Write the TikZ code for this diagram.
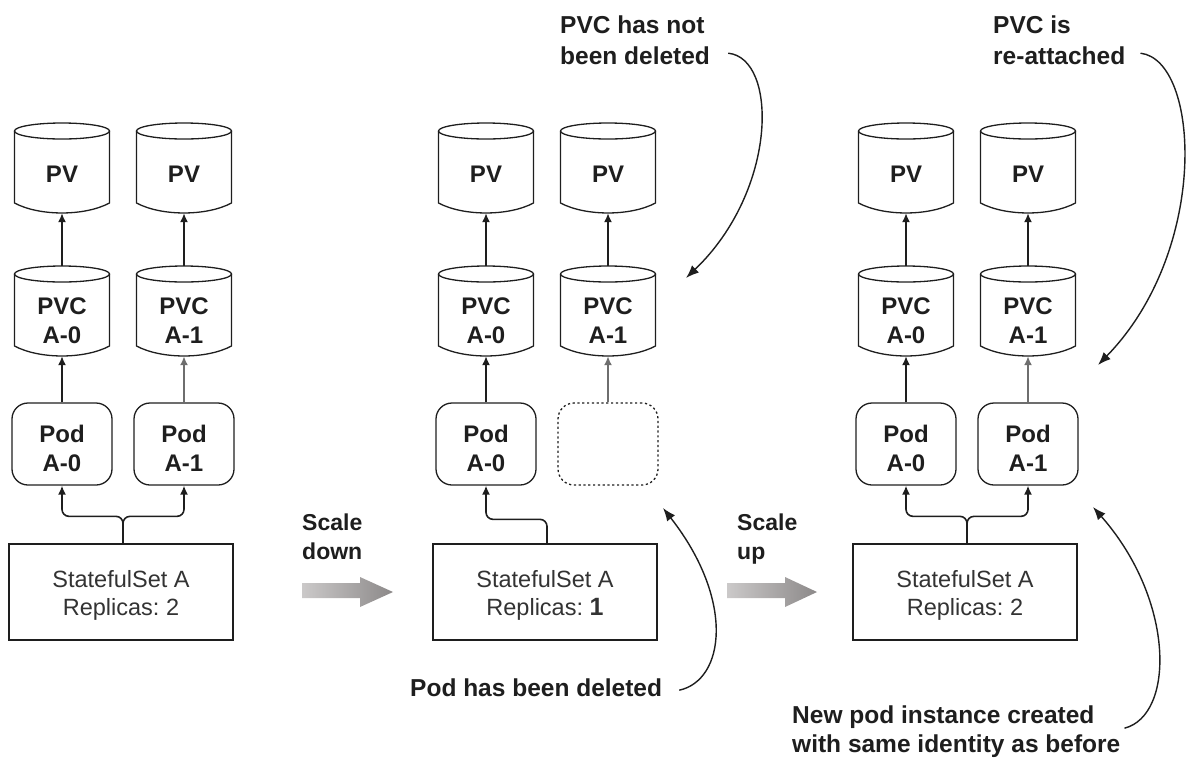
\documentclass[tikz,border=0pt]{standalone}
\usepackage{fontspec}
\setmainfont{Liberation Sans}
\usetikzlibrary{arrows.meta,calc}
\frenchspacing
\definecolor{ink}{HTML}{1E1E1E}
\definecolor{soft}{HTML}{333333}
\definecolor{grayarr}{HTML}{6E6E6E}
\definecolor{arrL}{HTML}{CBC9C9}
\definecolor{arrR}{HTML}{8C8989}
\newcommand\lbl[2]{\raisebox{-#1pt}[\height][\depth]{\begin{tabular}{@{}c@{}}#2\end{tabular}}}
\newcommand\cylshape[3]{%
  \draw[shapeline] (#1,#2+8) ellipse [x radius=47.5, y radius=8];
  \draw[shapeline] (#1-47.5,#2+8) -- (#1-47.5,#3-10) .. controls (#1-22.5,#3+3.3) and (#1+22.5,#3+3.3) .. (#1+47.5,#3-10) -- (#1+47.5,#2+8);
}
\begin{document}
\begin{tikzpicture}[x=1pt,y=-1pt,
  shapeline/.style={draw=ink, line width=1.3pt},
  cyl/.style={minimum width=95, inner sep=0pt, font=\fontsize{24}{29}\selectfont\bfseries, text=ink},
  podbox/.style={draw=ink, line width=1.3pt, rounded corners=16, minimum width=100, minimum height=82, inner sep=0pt, font=\fontsize{24}{29}\selectfont\bfseries, text=ink},
  ssbox/.style={draw=ink, line width=1.3pt, minimum width=224, minimum height=96, inner sep=0pt, font=\fontsize{23.5}{28}\selectfont, text=soft},
  arr/.style={draw=ink, line width=1.6pt, -{Latex[length=9pt,width=8pt]}},
  grayline/.style={draw=grayarr, line width=1.9pt},
  note/.style={anchor=north west, inner sep=0pt, font=\fontsize{24.5}{30}\selectfont\bfseries, text=ink},
  notearr/.style={draw=ink, line width=1.4pt, -{Latex[length=13pt,width=10pt]}},
  scaletxt/.style={anchor=north west, inner sep=0pt, font=\fontsize{23}{29}\selectfont\bfseries, text=ink}
]
\useasboundingbox (0,0) rectangle (1190,761);

% ---------- three panels ----------
\foreach \off/\p in {0/1,424/2,844/3}{
  \cylshape{62+\off}{123}{213}
  \cylshape{184+\off}{123}{213}
  \cylshape{62+\off}{266}{356}
  \cylshape{184+\off}{266}{356}
  \node[cyl, minimum height=90] (pv\p a) at (62+\off,168) {\lbl{8.2}{PV}};
  \node[cyl, minimum height=90] (pv\p b) at (184+\off,168) {\lbl{8.2}{PV}};
  \node[cyl, minimum height=90] (pvc\p a) at (62+\off,311) {\lbl{11.7}{PVC\\A-0}};
  \node[cyl, minimum height=90] (pvc\p b) at (184+\off,311) {\lbl{11.7}{PVC\\A-1}};
  \node[podbox] (pod\p a) at (62+\off,444) {\lbl{6.7}{Pod\\A-0}};
  \draw[arr] (pvc\p a.north) -- (pv\p a.south);
  \draw[arr] (pvc\p b.north) -- (pv\p b.south);
  \draw[arr] (pod\p a.north) -- (pvc\p a.south);
}

% panel 1
\node[podbox] (pod1b) at (184,444) {\lbl{6.7}{Pod\\A-1}};
\node[ssbox] (ss1) at (121,592) {\lbl{3.4}{StatefulSet A\\Replicas: 2}};
\draw[arr, grayline] (pod1b.north) -- (pvc1b.south);
\draw[arr, rounded corners=7] ([xshift=2pt]ss1.north) -- ++(0,-27) -| (pod1a.south);
\draw[arr, rounded corners=7] ([xshift=2pt]ss1.north) -- ++(0,-27) -| (pod1b.south);

% panel 2
\node[podbox, dash pattern=on 2.2pt off 2.6pt] (pod2b) at (608,444) {};
\node[ssbox] (ss2) at (545,592) {\lbl{3.4}{StatefulSet A\\Replicas: {\fontsize{25}{28}\selectfont\bfseries 1}}};
\draw[arr, grayline] (pod2b.north) -- (pvc2b.south);
\draw[arr, rounded corners=7] ([xshift=2pt]ss2.north) -- ++(0,-24) -| (pod2a.south);

% panel 3
\node[podbox] (pod3b) at (1028,444) {\lbl{6.7}{Pod\\A-1}};
\node[ssbox] (ss3) at (965,592) {\lbl{3.4}{StatefulSet A\\Replicas: 2}};
\draw[arr, grayline] (pod3b.north) -- (pvc3b.south);
\draw[arr, rounded corners=7] ([xshift=2pt]ss3.north) -- ++(0,-27) -| (pod3a.south);
\draw[arr, rounded corners=7] ([xshift=2pt]ss3.north) -- ++(0,-27) -| (pod3b.south);

% ---------- scale arrows ----------
\node[scaletxt] (sd) at (302,509.7) {\begin{tabular}{@{}l@{}}Scale\\down\end{tabular}};
\shade[left color=arrL, right color=arrR] (302,583) -- (360,583) -- (360,577) -- (393,592) -- (360,607) -- (360,598) -- (302,598) -- cycle;
\node[scaletxt] (su) at (737,509.7) {\begin{tabular}{@{}l@{}}Scale\\up\end{tabular}};
\shade[left color=arrL, right color=arrR] (727,583) -- (785,583) -- (785,577) -- (817,592) -- (785,607) -- (785,598) -- (727,598) -- cycle;

% ---------- annotations ----------
\node[note, font=\fontsize{24.5}{31}\selectfont\bfseries] (t1) at (560,11.3) {\begin{tabular}{@{}l@{}}PVC has not\\been deleted\end{tabular}};
\node[note, font=\fontsize{24.5}{31}\selectfont\bfseries] (t2) at (993,11.3) {\begin{tabular}{@{}l@{}}PVC is\\re-attached\end{tabular}};
\node[note] (t3) at (410,675) {\begin{tabular}{@{}l@{}}Pod has been deleted\end{tabular}};
\node[note, font=\fontsize{24.5}{29}\selectfont\bfseries] (t4) at (792,702.7) {\begin{tabular}{@{}l@{}}New pod instance created\\with same identity as before\end{tabular}};

\coordinate (tip1) at (686,278);
\coordinate (tip2) at (1098,365);
\coordinate (tip3) at (663,508);
\coordinate (tip4) at (1093,507);

\draw[notearr] ([xshift=18pt,yshift=-10.7pt]t1.east) .. controls (778,58) and (778,190) .. (tip1);
\draw[notearr] ([xshift=15pt,yshift=-10.7pt]t2.east) .. controls (1200,60) and (1210,250) .. (tip2);
\draw[notearr] ([xshift=17pt]t3.east) .. controls (725,680) and (735,600) .. (tip3);
\draw[notearr] ([xshift=4pt,yshift=3.7pt]t4.east) .. controls (1175,715) and (1175,600) .. (tip4);
\end{tikzpicture}
\end{document}
